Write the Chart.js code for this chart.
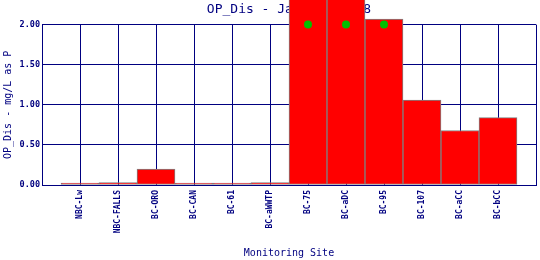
<!DOCTYPE html>
<html>
<head>
<meta charset="utf-8">
<script src="https://cdn.jsdelivr.net/npm/chart.js@4"></script>
<style>
  body { margin: 0; background: #fff; }
  #wrap { width: 540px; height: 260px; }
</style>
</head>
<body>
<div id="wrap"><canvas id="opChart" width="540" height="260"></canvas></div>
<script>
// monitoring sites along the creek
const sites = ["NBC-Lw", "NBC-FALLS", "BC-ORO", "BC-CAN", "BC-61", "BC-aWWTP",
               "BC-75", "BC-aDC", "BC-95", "BC-107", "BC-aCC", "BC-bCC"];
// OP_Dis, mg/L as P (two sites run off the top of the scale)
const opValues = [0, 0.03, 0.2, 0, 0, 0.03, 2.6, 2.6, 2.07, 1.06, 0.68, 0.84];
// green markers for sites over the 2.00 scale max
const offScale = [null, null, null, null, null, null, 2.0, 2.0, 2.0, null, null, null];
const yTicks = [0, 0.5, 1.0, 1.5, 2.0];

const navy = "#000080";
const mono = "'DejaVu Sans Mono', 'Liberation Mono', monospace";

// empty slot at each end so the grid spans a full cell past the first/last site
const labels = ["", ...sites, ""];
const barData = [null, ...opValues, null];
const markData = [null, ...offScale, null];

const ctx = document.getElementById("opChart").getContext("2d");
new Chart(ctx, {
  type: "bar",
  data: {
    labels: labels,
    datasets: [
      {
        type: "line",
        data: markData,
        showLine: false,
        pointRadius: 4,
        pointBackgroundColor: "#00c000",
        pointBorderColor: "#00c000",
        pointBorderWidth: 0,
        clip: false,
        order: 0,
      },
      {
        data: barData,
        backgroundColor: "#ff0000",
        borderColor: "#808080",
        borderWidth: 1,
        borderSkipped: false,
        minBarLength: 2,
        barPercentage: 1,
        categoryPercentage: 1,
        clip: false, // tall bars run over the title like the original
        order: 1,
      },
    ],
  },
  options: {
    responsive: false,
    animation: false,
    layout: { padding: { left: 0, right: 3.5, top: 0, bottom: 0 } },
    plugins: {
      legend: { display: false },
      tooltip: { enabled: false },
      title: {
        display: true,
        text: "OP_Dis - January 1998",
        fullSize: false,
        color: navy,
        font: { family: mono, size: 13, weight: "normal" },
        padding: { top: 2, bottom: 7 },
      },
    },
    scales: {
      x: {
        offset: false,
        grid: { color: navy, lineWidth: 1, offset: false, drawTicks: false },
        border: { color: navy, width: 1 },
        ticks: {
          autoSkip: false,
          minRotation: 90,
          maxRotation: 90,
          padding: 5,
          color: navy,
          font: { family: mono, size: 8, weight: "bold" },
        },
        title: {
          display: true,
          text: "Monitoring Site",
          color: navy,
          font: { family: mono, size: 10 },
          padding: { top: 0, bottom: 1 },
        },
        afterFit: (scale) => {
          scale.height = 75;
          scale.paddingLeft = 0;
          scale.paddingRight = 0;
        },
      },
      y: {
        min: yTicks[0],
        max: yTicks[yTicks.length - 1],
        grid: { color: navy, lineWidth: 1, drawTicks: false },
        border: { color: navy, width: 1 },
        afterBuildTicks: (scale) => {
          scale.ticks = yTicks.map((v) => ({ value: v }));
        },
        ticks: {
          padding: 2,
          color: navy,
          font: { family: mono, size: 8.5, weight: "bold" },
          callback: (value) => Number(value).toFixed(2),
        },
        title: {
          display: true,
          text: "OP_Dis - mg/L as P",
          color: navy,
          font: { family: mono, size: 10 },
          padding: { top: 2, bottom: 0 },
        },
        afterFit: (scale) => {
          scale.width = 42;
          scale.paddingTop = 0;
          scale.paddingBottom = 0;
        },
      },
    },
  },
});
</script>
</body>
</html>
